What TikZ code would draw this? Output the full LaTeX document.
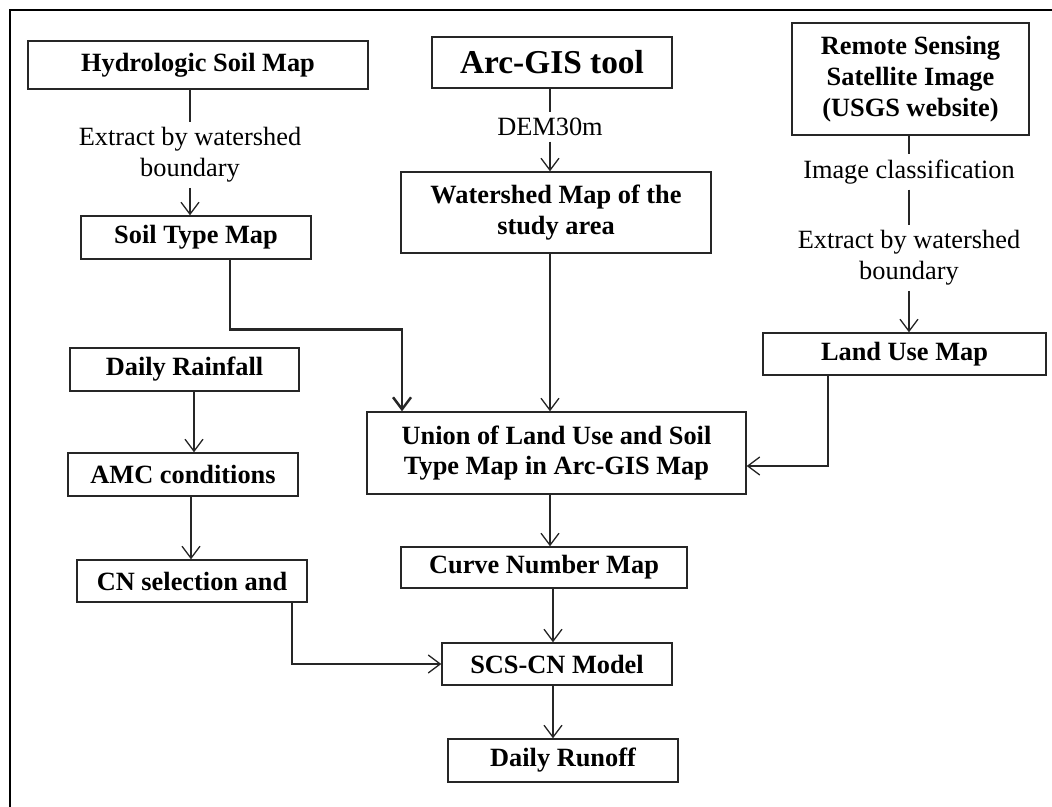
\documentclass[tikz,border=0pt]{standalone}
\usepackage{fontspec}
\setmainfont{Liberation Serif}
\usetikzlibrary{arrows.meta}

\begin{document}
\begin{tikzpicture}[
    x=0.02cm, y=-0.02cm,
    >={Straight Barb[length=2.4mm, width=3.6mm]},
    font=\fontsize{15}{17.5}\selectfont,
    box/.style={draw=black!85, line width=0.8pt, fill=white,
                inner sep=2pt, align=center, font=\fontsize{15}{17.5}\selectfont\bfseries},
    lab/.style={align=center, inner sep=3pt, font=\fontsize{15}{17.5}\selectfont},
    e/.style={->, draw=black!85, line width=0.75pt},
    l/.style={draw=black!85, line width=0.75pt},
    frame/.style={draw=black, line width=1.2pt},
  ]
    \useasboundingbox (0,0) rectangle (1052,807);
    \draw[frame] (10,807) -- (10,10) -- (1052,10);
    % --- soil branch ------------------------------------------------------
    \node[box, minimum width=6.8cm, minimum height=0.96cm] (hsm) at (198,65) {Hydrologic Soil Map};
    \node[lab] (ext1) at (190,155) {Extract by watershed\\boundary};
    \node[box, minimum width=4.6cm, minimum height=0.86cm] (stm) at (196,237.5) {Soil Type Map};
    % --- watershed branch -------------------------------------------------
    \node[box, minimum width=4.8cm, minimum height=1.02cm,
          font=\fontsize{19}{22}\selectfont\bfseries] (arc) at (552,62.5) {Arc-GIS tool};
    \node[lab] (dem) at (550,127) {DEM30m};
    \node[box, minimum width=6.2cm, minimum height=1.62cm] (wsm) at (556,212.5) {Watershed Map of the\\study area};
    % --- land use branch --------------------------------------------------
    \node[box, minimum width=4.74cm, minimum height=2.24cm] (rss) at (910.5,79) {Remote Sensing\\Satellite Image\\(USGS website)};
    \node[lab] (imc) at (909,172) {Image classification};
    \node[lab] (ext2) at (909,258) {Extract by watershed\\boundary};
    \node[box, minimum width=5.66cm, minimum height=0.84cm] (lum) at (904.5,354) {Land Use Map};
    % --- rainfall branch --------------------------------------------------
    \node[box, minimum width=4.58cm, minimum height=0.86cm] (rain) at (184.5,369.5) {Daily Rainfall};
    \node[box, minimum width=4.6cm, minimum height=0.86cm] (amc) at (183,474.5) {AMC conditions};
    \node[box, minimum width=4.6cm, minimum height=0.84cm] (cns) at (192,581) {CN selection and};
    % --- model ------------------------------------------------------------
    \node[box, minimum width=7.58cm, minimum height=1.64cm] (uni) at (556.5,453) {Union of Land Use and Soil\\Type Map in Arc-GIS Map};
    \node[box, minimum width=5.72cm, minimum height=0.82cm] (cnm) at (544,567.5) {Curve Number Map};
    \node[box, minimum width=4.6cm, minimum height=0.84cm] (scs) at (557,664) {SCS-CN Model};
    \node[box, minimum width=4.6cm, minimum height=0.86cm] (dro) at (563,760.5) {Daily Runoff};
    % --- edges ------------------------------------------------------------
    \draw[l] (hsm.south -| ext1) -- (ext1);
    \draw[e] (ext1) -- (ext1 |- stm.north);
    \draw[l] (arc.south -| dem) -- (dem);
    \draw[e] (dem) -- (dem |- wsm.north);
    \draw[l] (rss.south -| imc) -- (imc);
    \draw[l] (imc) -- (ext2);
    \draw[e] (ext2) -- (ext2 |- lum.north);
    \draw[e, line width=1.4pt] ([xshift=0.68cm]stm.south) -- ++(0,70) -| ([xshift=-3.09cm]uni.north);
    \draw[e] ([xshift=-0.12cm]wsm.south) -- ([xshift=-0.12cm]wsm.south |- uni.north);
    \draw[e] ([xshift=-1.53cm]lum.south) |- ([yshift=-0.26cm]uni.east);
    \draw[e] ([xshift=-0.13cm]uni.south) -- ([xshift=-0.13cm]uni.south |- cnm.north);
    \draw[e] ([xshift=-0.08cm]scs.north |- cnm.south) -- ([xshift=-0.08cm]scs.north);
    \draw[e] ([xshift=-0.08cm]scs.south) -- ([xshift=-0.08cm]scs.south |- dro.north);
    \draw[e] ([xshift=0.19cm]rain.south) -- ([xshift=0.19cm]rain.south |- amc.north);
    \draw[e] ([xshift=0.16cm]amc.south) -- ([xshift=0.16cm]amc.south |- cns.north);
    \draw[e] ([xshift=2cm]cns.south) |- (scs.west);
\end{tikzpicture}
\end{document}
